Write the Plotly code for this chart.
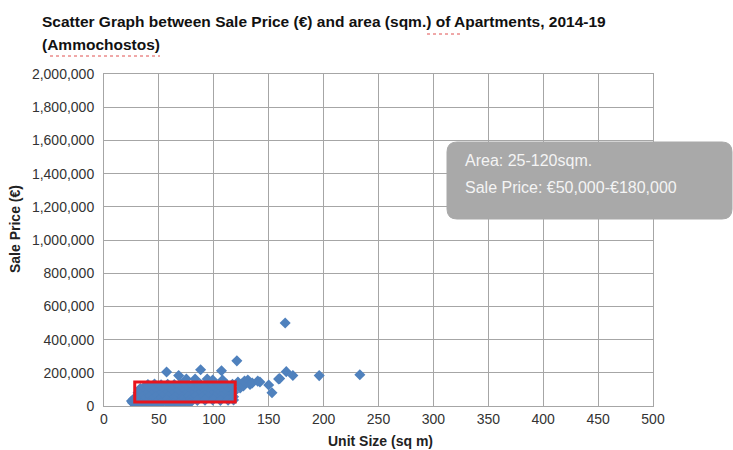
import plotly.graph_objects as go

# Apartment transactions, Ammochostos 2014-19: unit size (sq m) and sale price (EUR)
# Dense core of the market (roughly 25-120 sq m)
core_area = [
    40, 46, 52, 58, 64, 70, 76, 82, 88, 94, 100, 106, 112, 117,
    37, 43, 49, 55, 61, 67, 73, 79, 85, 91, 97, 103, 109, 115,
    33, 38, 44, 50, 56, 62, 68, 74, 80, 86, 92, 98, 104, 110, 116,
    34, 39, 45, 51, 57, 63, 69, 75, 81, 87, 93, 99, 105, 111, 117,
    31, 36, 42, 48, 54, 60, 66, 72, 78, 84, 90, 96, 102, 108, 114, 118,
    33, 38, 44, 50, 56, 62, 68, 74, 80, 86, 92, 98, 104, 110, 116,
    30, 35, 41, 47, 53, 59, 65, 71, 77, 83, 89, 95, 101, 107, 113, 118,
    30, 36, 43, 50, 57, 64, 71, 78, 85, 92, 99, 106, 113, 118,
    26, 28, 31, 34, 38, 42, 47, 52, 58, 63, 68, 73, 78,
    25, 27, 29,
]
core_price = [
    130000, 132000, 128000, 131000, 129000, 133000, 130000, 128000, 131000, 129000, 132000, 130000, 128000, 131000,
    118000, 116000, 119000, 117000, 118000, 116000, 119000, 117000, 118000, 116000, 119000, 117000, 118000, 116000,
    105000, 103000, 106000, 104000, 105000, 103000, 106000, 104000, 105000, 103000, 106000, 104000, 105000, 103000, 106000,
    92000, 93000, 91000, 92000, 93000, 91000, 92000, 93000, 91000, 92000, 93000, 91000, 92000, 93000, 91000,
    80000, 82000, 79000, 81000, 80000, 82000, 79000, 81000, 80000, 82000, 79000, 81000, 80000, 82000, 79000, 81000,
    67000, 68000, 66000, 67000, 68000, 66000, 67000, 68000, 66000, 67000, 68000, 66000, 67000, 68000, 66000,
    55000, 57000, 54000, 56000, 55000, 57000, 54000, 56000, 55000, 57000, 54000, 56000, 55000, 57000, 54000, 56000,
    35000, 36000, 34000, 35000, 36000, 34000, 35000, 36000, 34000, 35000, 36000, 34000, 35000, 36000,
    20000, 15000, 18000, 14000, 17000, 15000, 18000, 16000, 14000, 17000, 15000, 18000, 16000,
    30000, 42000, 50000,
]

# Individual sales above the core and the larger units
other_area = [
    57, 68, 73, 75, 83, 88, 94, 99, 107, 108, 109,
    121, 122, 124, 126, 127, 128, 131, 133, 135, 140, 142,
    150, 153, 159, 160, 165, 166, 172, 196, 233,
]
other_price = [
    205000, 183000, 145000, 163000, 163000, 218000, 163000, 157000, 212000, 157000, 139000,
    272000, 145000, 108000, 135000, 120000, 150000, 157000, 130000, 139000, 150000, 145000,
    127000, 80000, 163000, 165000, 500000, 207000, 184000, 183000, 188000,
]

x_ticks = [0, 50, 100, 150, 200, 250, 300, 350, 400, 450, 500]
y_ticks = [0, 200000, 400000, 600000, 800000, 1000000, 1200000,
           1400000, 1600000, 1800000, 2000000]

highlight_area = [28, 119.5]
highlight_price = [24000, 145000]

note_lines = ["Area: 25-120sqm.", "Sale Price: €50,000-€180,000"]

title_lines = [
    "Scatter Graph between Sale Price (€) and area (sqm.) of Apartments, 2014-19",
    "(Ammochostos)",
]

FONT = "Liberation Sans, Arial, sans-serif"
BLUE = "#4f81bd"
GRID = "#a6a6a6"

# plot area in pixels
PL, PR, PT, PB = 104, 653, 74, 406
PW, PH = PR - PL, PB - PT


def px_x(p):
    return (p - PL) / PW


def px_y(p):
    return (PB - p) / PH


fig = go.Figure()
fig.add_trace(go.Scatter(
    x=core_area + other_area,
    y=core_price + other_price,
    mode="markers",
    marker=dict(symbol="diamond", size=8.5, color=BLUE, line=dict(width=0)),
    hoverinfo="skip",
    showlegend=False,
))

fig.update_layout(
    width=733, height=450,
    margin=dict(l=PL, r=733 - PR, t=PT, b=450 - PB),
    paper_bgcolor="white", plot_bgcolor="white",
    font=dict(family=FONT, size=13, color="#333333"),
    showlegend=False,
    xaxis=dict(
        range=[0, 500], tickvals=x_ticks, ticktext=[str(v) for v in x_ticks],
        showgrid=True, gridcolor=GRID, gridwidth=1,
        showline=True, linecolor=GRID, linewidth=1, mirror=True,
        zeroline=False, ticks="", automargin=False,
        tickfont=dict(size=14, color="#333333"),
    ),
    yaxis=dict(
        range=[0, 2000000], tickvals=y_ticks,
        ticktext=[f"{v:,}" for v in y_ticks],
        showgrid=True, gridcolor=GRID, gridwidth=1,
        showline=True, linecolor=GRID, linewidth=1, mirror=True,
        zeroline=False, ticks="", automargin=False, ticklabelstandoff=6,
        tickfont=dict(size=14, color="#333333"),
    ),
)

# Axis titles
fig.add_annotation(text="<b>Unit Size (sq m)</b>", xref="paper", yref="paper",
                   x=px_x(380), y=px_y(441), xanchor="center", yanchor="middle",
                   showarrow=False, font=dict(family=FONT, size=14, color="#222222"))
fig.add_annotation(text="<b>Sale Price (€)</b>", xref="paper", yref="paper",
                   x=px_x(15), y=px_y(229), xanchor="center", yanchor="middle",
                   textangle=-90, showarrow=False,
                   font=dict(family=FONT, size=14, color="#222222"))

# Title, two lines
for line, yp in zip(title_lines, [21, 44]):
    fig.add_annotation(text="<b>" + line + "</b>", xref="paper", yref="paper",
                       x=px_x(40), y=px_y(yp), xanchor="left", yanchor="middle",
                       showarrow=False, font=dict(family=FONT, size=15.5, color="#111111"))

# Spell-check squiggles under "sqm." and "Ammochostos"
for x0, x1, yp in [(427, 462, 34), (50, 160, 56)]:
    fig.add_shape(type="line", xref="paper", yref="paper",
                  x0=px_x(x0), x1=px_x(x1), y0=px_y(yp), y1=px_y(yp),
                  line=dict(color="#e05050", width=1, dash="dot"))

# Red box around the core of the market
fig.add_shape(type="rect", xref="x", yref="y",
              x0=highlight_area[0], x1=highlight_area[1],
              y0=highlight_price[0], y1=highlight_price[1],
              line=dict(color="#e8141c", width=3), layer="above")

# Rounded grey callout box
L, R, T, B, rad = 447, 732, 142, 219, 10
path = (
    f"M {px_x(L + rad)},{px_y(T)} L {px_x(R - rad)},{px_y(T)} "
    f"Q {px_x(R)},{px_y(T)} {px_x(R)},{px_y(T + rad)} "
    f"L {px_x(R)},{px_y(B - rad)} Q {px_x(R)},{px_y(B)} {px_x(R - rad)},{px_y(B)} "
    f"L {px_x(L + rad)},{px_y(B)} Q {px_x(L)},{px_y(B)} {px_x(L)},{px_y(B - rad)} "
    f"L {px_x(L)},{px_y(T + rad)} Q {px_x(L)},{px_y(T)} {px_x(L + rad)},{px_y(T)} Z"
)
fig.add_shape(type="path", path=path, xref="paper", yref="paper",
              fillcolor="#a9a9a9", line=dict(color="#a9a9a9", width=1), layer="above")

for line, yp in zip(note_lines, [160, 187]):
    fig.add_annotation(text=line, xref="paper", yref="paper",
                       x=px_x(463), y=px_y(yp), xanchor="left", yanchor="middle",
                       showarrow=False, font=dict(family=FONT, size=16, color="#f4f4f4"))

fig.write_html("out.html")
